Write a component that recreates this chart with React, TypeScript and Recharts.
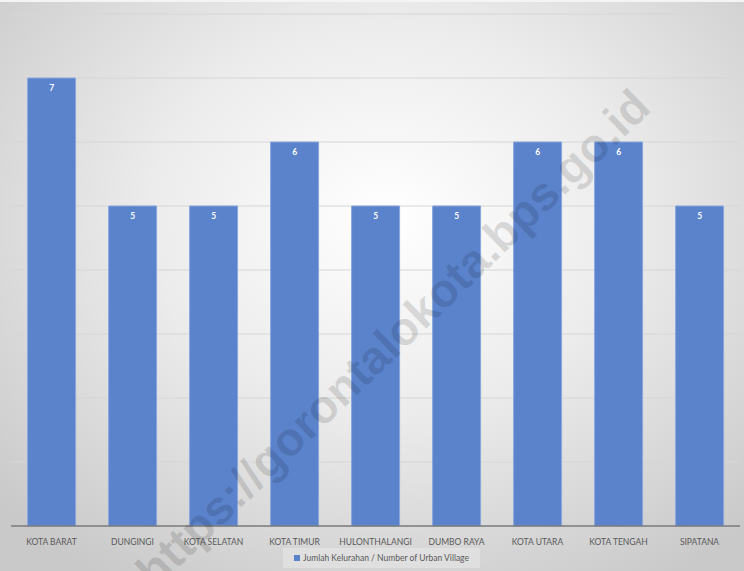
import React from 'react';
import { BarChart, Bar, XAxis, YAxis, CartesianGrid, LabelList } from 'recharts';

const districts = [
  'KOTA BARAT',
  'DUNGINGI',
  'KOTA SELATAN',
  'KOTA TIMUR',
  'HULONTHALANGI',
  'DUMBO RAYA',
  'KOTA UTARA',
  'KOTA TENGAH',
  'SIPATANA',
];
const urbanVillages = [7, 5, 5, 6, 5, 5, 6, 6, 5];
const yTicks = [0, 1, 2, 3, 4, 5, 6, 7, 8];

const seriesName = 'Jumlah Kelurahan / Number of Urban Village';
const watermark = 'https://gorontalokota.bps.go.id';
const font = 'Lato, "Open Sans", sans-serif';

const chartData = districts.map((name, i) => ({ name, value: urbanVillages[i] }));

export default function App() {
  return (
    <div
      style={{
        position: 'absolute',
        top: 0,
        left: 0,
        width: 744,
        height: 571,
        overflow: 'hidden',
        fontFamily: font,
        background: 'radial-gradient(ellipse 70% 75% at 52% 38%, #ffffff 0%, #ececec 45%, #c9c9c9 100%)',
      }}
    >
      <div style={{ position: 'absolute', top: 0, left: 0, width: 744, height: 2, background: '#f4f4f4' }} />
      <BarChart
        width={744}
        height={571}
        data={chartData}
        margin={{ top: 14, right: 4, left: 11, bottom: 23 }}
        barCategoryGap="20.5%"
      >
        <CartesianGrid vertical={false} stroke="#d6d6d6" strokeWidth={1} />
        <YAxis hide domain={[0, 8]} ticks={yTicks} />
        <XAxis
          dataKey="name"
          height={22}
          tickLine={false}
          axisLine={{ stroke: '#7a7a7a', strokeWidth: 1.5 }}
          tickMargin={7}
          interval={0}
          tick={{ fontSize: 8.5, fill: '#595959', fontFamily: font }}
        />
        <Bar
          dataKey="value"
          fill="#5a83cc"
          stroke="#8aa6dc"
          strokeWidth={1}
          isAnimationActive={false}
        >
          <LabelList
            dataKey="value"
            position="insideTop"
            offset={7}
            fill="#ffffff"
            fontSize={8.5}
            fontWeight="bold"
            fontFamily={font}
          />
        </Bar>
      </BarChart>
      <div
        style={{
          position: 'absolute',
          left: 283,
          top: 548,
          width: 197,
          height: 20,
          background: 'rgba(255,255,255,0.25)',
          display: 'flex',
          alignItems: 'center',
          justifyContent: 'center',
          fontSize: 8.5,
          color: '#595959',
        }}
      >
        <span style={{ display: 'inline-block', width: 6, height: 6, background: '#5a83cc', marginRight: 3 }} />
        {seriesName}
      </div>
      <svg
        width={744}
        height={571}
        style={{ position: 'absolute', top: 0, left: 0, pointerEvents: 'none' }}
      >
        <text
          x={404}
          y={350}
          textAnchor="middle"
          transform="rotate(-44 404 350)"
          fontSize={47}
          fontWeight="bold"
          fontFamily='"Liberation Sans", Arial, sans-serif'
          fill="#000000"
          fillOpacity={0.12}
        >
          {watermark}
        </text>
      </svg>
    </div>
  );
}
